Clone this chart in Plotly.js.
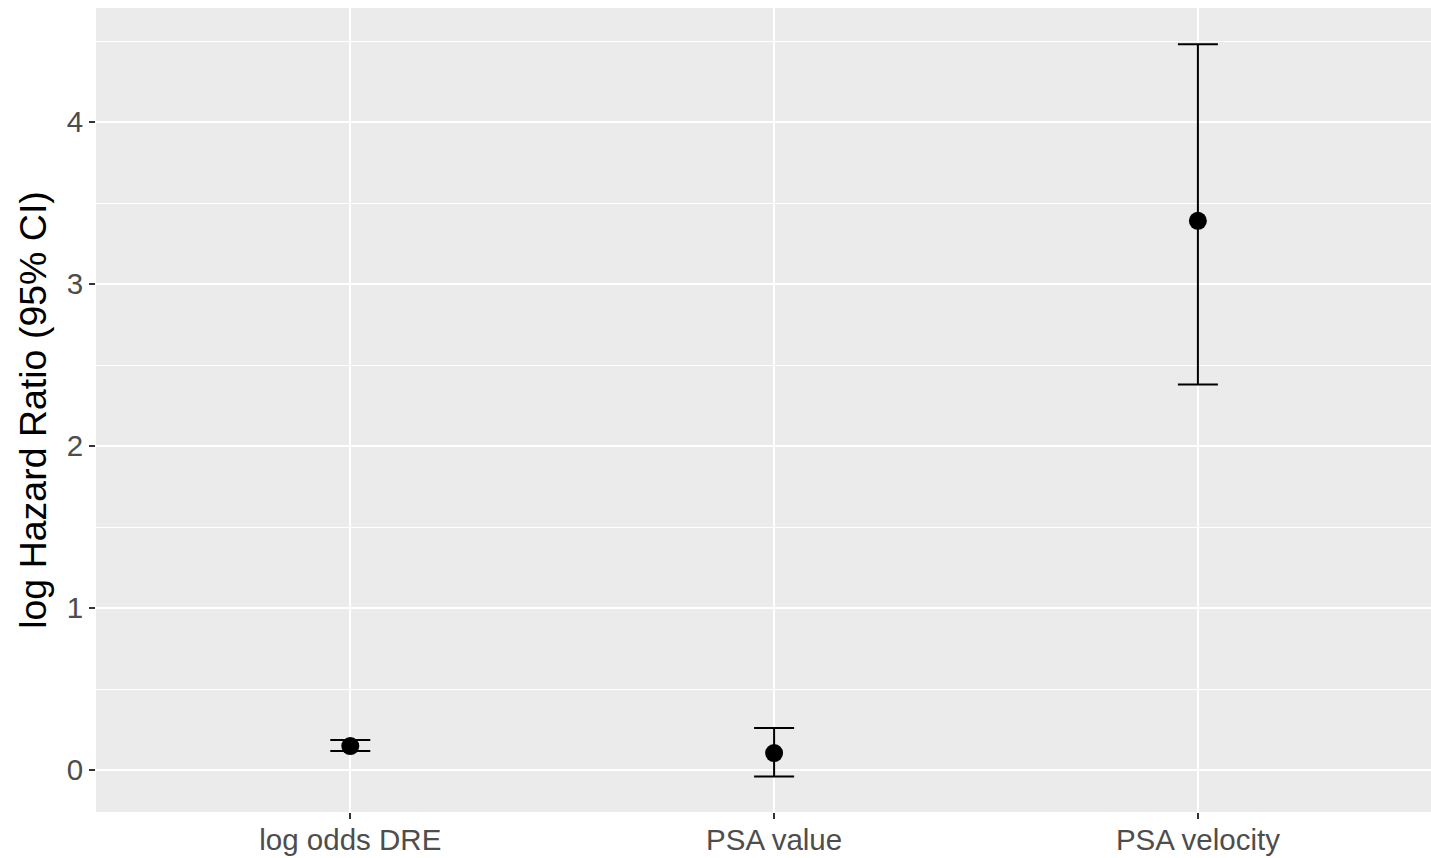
<!DOCTYPE html>
<html>
<head>
<meta charset="utf-8">
<script src="https://cdn.plot.ly/plotly-3.0.1.min.js"></script>
<style>html,body{margin:0;padding:0;background:#fff;}#chart{width:1431px;height:858px;}</style>
</head>
<body>
<div id="chart"></div>
<script>
const categories = ["log odds DRE", "PSA value", "PSA velocity"];
const estimate = [0.148, 0.105, 3.39];
const lower = [0.117, -0.04, 2.38];
const upper = [0.185, 0.26, 4.48];

const errPlus = estimate.map((v, i) => upper[i] - v);
const errMinus = estimate.map((v, i) => v - lower[i]);

const trace = {
  type: "scatter",
  mode: "markers",
  x: categories,
  y: estimate,
  marker: {color: "#000000", size: 18},
  error_y: {
    type: "data",
    symmetric: false,
    array: errPlus,
    arrayminus: errMinus,
    color: "#000000",
    thickness: 2,
    width: 20
  },
  hoverinfo: "x+y"
};

const layout = {
  width: 1431,
  height: 858,
  margin: {l: 96, r: 0, t: 8, b: 46, pad: 0},
  paper_bgcolor: "#ffffff",
  plot_bgcolor: "#EBEBEB",
  showlegend: false,
  font: {family: "Liberation Sans, Arial, sans-serif"},
  xaxis: {
    type: "category",
    range: [-0.6, 2.55],
    showgrid: true,
    gridcolor: "#ffffff",
    gridwidth: 2,
    zeroline: false,
    showline: false,
    ticks: "outside",
    ticklen: 6,
    tickwidth: 2,
    tickcolor: "#333333",
    ticklabelstandoff: -4,
    tickfont: {size: 29.5, color: "#4D4D4D"},
    automargin: false
  },
  yaxis: {
    range: [-0.259, 4.704],
    tickvals: [0, 1, 2, 3, 4],
    ticktext: ["0", "1", "2", "3", "4"],
    showgrid: true,
    gridcolor: "#ffffff",
    gridwidth: 2,
    minor: {tickvals: [0.5, 1.5, 2.5, 3.5, 4.5], showgrid: true, gridcolor: "#ffffff", gridwidth: 1, ticks: ""},
    zeroline: false,
    showline: false,
    ticks: "outside",
    ticklen: 6,
    tickwidth: 2,
    tickcolor: "#333333",
    tickfont: {size: 29.5, color: "#4D4D4D"},
    title: {text: "log Hazard Ratio (95% CI)", font: {size: 37.5, color: "#000000"}, standoff: 8},
    automargin: false
  }
};

Plotly.newPlot("chart", [trace], layout, {displayModeBar: false, staticPlot: true});
</script>
</body>
</html>
